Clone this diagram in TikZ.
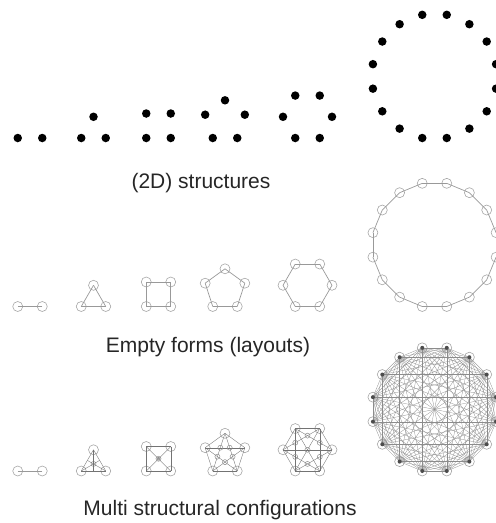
\documentclass[tikz,border=0pt]{standalone}
\usepackage{fontspec}
\setmainfont{Liberation Sans}
\usetikzlibrary{calc}
\tikzset{
  dot/.style={circle, fill=black, inner sep=0pt, minimum size=8.5pt},
  ring/.style={circle, draw=black!35, line width=0.6pt, inner sep=0pt, minimum size=10pt},
  knot/.style={circle, draw=black!45, line width=0.5pt, inner sep=0pt, minimum size=5pt},
  hub/.style={circle, fill=black!70, inner sep=0pt, minimum size=4pt},
  bond/.style={draw=black!40, line width=0.7pt},
  web/.style={draw=black!55, line width=0.35pt},
  fineweb/.style={draw=black!45, line width=0.28pt},
  caption/.style={font=\fontsize{21}{25}\selectfont, text=black!85, anchor=base}
}
% n nodes on a ring with flat bottom edge, side 24.5
\newcommand{\polyset}[5]{%
  \pgfmathsetmacro\ringr{12.25/sin(180/#2)}
  \pgfmathsetmacro\ringy{#4-\ringr*cos(180/#2)}
  \foreach \k in {1,...,#2}{
    \pgfmathsetmacro\ang{90+180/#2+(\k-1)*360/#2}
    \node[#5] (#1-\k) at ({#3+\ringr*cos(\ang)},{\ringy+\ringr*sin(\ang)}) {};
  }
}
\newcommand{\cycleset}[2]{%
  \foreach \k [evaluate=\k as \nx using {int(mod(\k,#2)+1)}] in {1,...,#2}
    \draw[bond] (#1-\k.center) -- (#1-\nx.center);
}
\newcommand{\fullset}[3][web]{%
  \foreach \i in {1,...,#3}{
    \foreach \j in {\i,...,#3}
      \draw[#1] (#2-\i.center) -- (#2-\j.center);
  }
}
% knots where the short diagonals cross
\newcommand{\knotset}[2]{%
  \foreach \k [evaluate=\k as \kb using {int(mod(\k,#2)+1)},
               evaluate=\k as \kc using {int(mod(\k+1,#2)+1)},
               evaluate=\k as \kd using {int(mod(\k+2,#2)+1)}] in {1,...,#2}
    \node[knot] (#1k-\k) at (intersection cs: first line={(#1-\k.center)--(#1-\kc.center)},
                                              second line={(#1-\kb.center)--(#1-\kd.center)}) {};
}

\begin{document}
\begin{tikzpicture}[x=1pt, y=-1pt]
		%%%%% START %%%%%
		\clip (0,0) rectangle (496,523);
		
		% (2D) structures
		\polyset{d2}{2}{30}{138}{dot}
		\polyset{d3}{3}{93.5}{138}{dot}
		\polyset{d4}{4}{158.5}{138}{dot}
		\polyset{d5}{5}{225}{138}{dot}
		\polyset{d6}{6}{307.5}{138}{dot}
		\polyset{d16}{16}{434.5}{138}{dot}
		\node[caption] (lbl1) at (201,188) {(2D) structures};
		
		% empty forms
		\polyset{e2}{2}{30}{306.5}{ring}
		\polyset{e3}{3}{93.5}{306.5}{ring}
		\polyset{e4}{4}{158.5}{306.5}{ring}
		\polyset{e5}{5}{225}{306.5}{ring}
		\polyset{e6}{6}{307.5}{306.5}{ring}
		\polyset{e16}{16}{434.5}{306.5}{ring}
		\cycleset{e2}{2}
		\cycleset{e3}{3}
		\cycleset{e4}{4}
		\cycleset{e5}{5}
		\cycleset{e6}{6}
		\cycleset{e16}{16}
		\node[caption] (lbl2) at (208,352) {Empty forms (layouts)};
		
		% multi structural configurations
		\polyset{m2}{2}{30}{471}{ring}
		\polyset{m3}{3}{93.5}{471}{ring}
		\polyset{m4}{4}{158.5}{471}{ring}
		\polyset{m5}{5}{225}{471}{ring}
		\polyset{m6}{6}{307.5}{471}{ring}
		\polyset{m16}{16}{434.5}{471}{ring}
		\cycleset{m2}{2}
		\fullset{m3}{3}
		\fullset{m4}{4}
		\fullset{m5}{5}
		\fullset{m6}{6}
		\fullset[fineweb]{m16}{16}
		\foreach \k in {1,...,16}
			\node[hub] (m16h-\k) at (m16-\k) {};
		
		% inner knots
		\node[knot] (m3c) at (barycentric cs:m3-1=1,m3-2=1,m3-3=1) {};
		\draw[web] (m3-1.center) -- ($(m3-2)!0.5!(m3-3)$);
		\draw[web] (m3-2.center) -- ($(m3-3)!0.5!(m3-1)$);
		\draw[web] (m3-3.center) -- ($(m3-1)!0.5!(m3-2)$);
		\node[knot] (m4c) at ($(m4-1)!0.5!(m4-3)$) {};
		\node[knot, minimum size=3pt] (m4d) at (m4c) {};
		\knotset{m5}{5}
		\knotset{m6}{6}
		\node[knot] (m6c) at ($(m6-1)!0.5!(m6-4)$) {};
		
		\node[caption] (lbl3) at (220,515) {Multi structural configurations};
		%%%%% END %%%%%
	\end{tikzpicture}
\end{document}
